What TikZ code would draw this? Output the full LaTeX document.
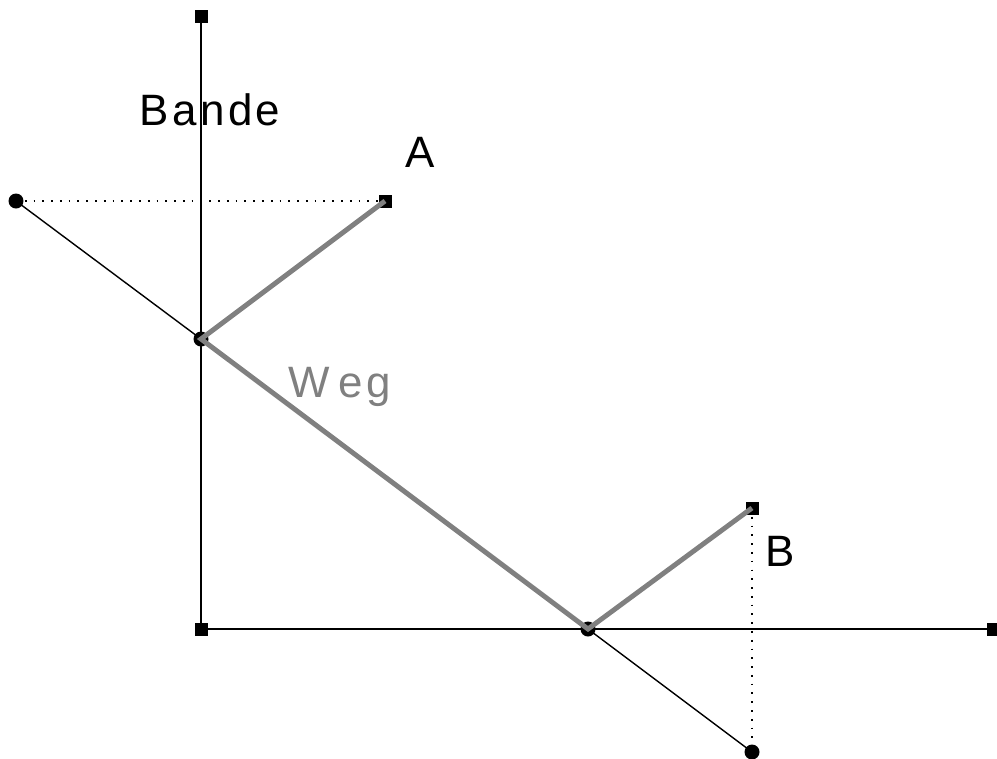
\documentclass[tikz,border=0pt]{standalone}
\usepackage{fontspec}
\setmainfont{Liberation Sans}
\usepackage{xcolor}
\usepackage{tikz}
\definecolor{weggrau}{rgb}{0.50,0.50,0.50}

\begin{document}
\begin{tikzpicture}[x=0.02cm, y=-0.02cm,
      ecke/.style={draw=none, fill=black, inner sep=0pt, minimum size=0.26cm},
      punkt/.style={circle, draw=none, fill=black, inner sep=0pt, minimum size=0.30cm},
      lbl/.style={anchor=base west, inner sep=0pt,
                  font=\fontsize{25}{30}\selectfont\addfontfeature{LetterSpace=8}},
      linie/.style={line width=1.1pt, black},
      spiegel/.style={line width=1pt, dash pattern=on 1pt off 4pt},
      weg/.style={line width=2.8pt, color=weggrau}
  ]
    \useasboundingbox (0,0) rectangle (997,758);
    % Bande
    \node[ecke] (oben)   at (201,16)  {};
    \node[ecke] (ecke)   at (201,629) {};
    \node[ecke] (rechts) at (993,629) {};
    % Punkte
    \node[ecke]  (a)  at (385,201) {};
    \node[punkt] (as) at (16,201)  {};
    \node[punkt] (p)  at (201,339) {};
    \node[punkt] (q)  at (588,629) {};
    \node[ecke]  (b)  at (752,508) {};
    \node[punkt] (bs) at (752,752) {};

    \draw[linie] (oben.center) -- (ecke.center) -- (rechts.center);
    \draw[spiegel] (as.center) -- (a.center);
    \draw[spiegel] (b.center) -- (bs.center);
    \draw[linie, line width=0.8pt] (as.center) -- (p.center) -- (q.center) -- (bs.center);
    \draw[weg] (a.center) -- (p.center) -- (q.center) -- (b.center);

    \node[lbl] (bande) at (139,125) {Bande};
    \node[lbl] (la) at (405,167) {A};
    \node[lbl] (lb) at (765,566) {B};
    \node[lbl, text=weggrau] (lweg) at (288,397) {W\kern5pt eg};
  \end{tikzpicture}
\end{document}
